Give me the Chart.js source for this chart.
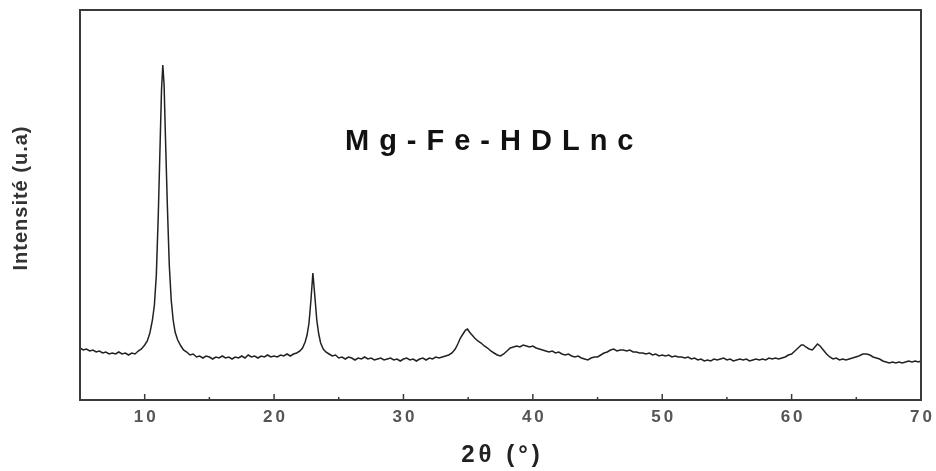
<!DOCTYPE html>
<html lang="fr">
<head>
  <meta charset="UTF-8">
  <title>DRX Mg-Fe-HDLnc</title>
  <style>
    body { margin: 0; background: #fff; }
    #wrap { width: 936px; height: 471px; }
  </style>
</head>
<body>
<div id="wrap"><canvas id="xrd"></canvas></div>

<script src="https://cdn.jsdelivr.net/npm/chart.js"></script>
<script>
  // 2theta positions (degrees)
  var twoTheta = [
    5.0, 5.25, 5.5, 5.75, 6.0, 6.25, 6.5, 6.75, 7.0, 7.25, 7.5, 7.75, 8.0, 8.25, 8.5, 8.75, 9.0, 9.25, 9.5,
    9.75, 10.0, 10.2, 10.4, 10.6, 10.75, 10.9, 11.05, 11.2, 11.3, 11.4, 11.5, 11.6, 11.75, 11.9, 12.05, 12.2, 12.35, 12.55, 12.8, 13.0, 13.25,
    13.5, 13.75, 14.0, 14.25, 14.5, 14.75, 15.0, 15.25, 15.5, 15.75, 16.0, 16.25, 16.5, 16.75, 17.0, 17.25, 17.5, 17.75,
    18.0, 18.25, 18.5, 18.75, 19.0, 19.25, 19.5, 19.75, 20.0, 20.25, 20.5, 20.75, 21.0, 21.25, 21.5, 21.75, 22.0,
    22.2, 22.4, 22.55, 22.7, 22.85, 23.0, 23.15, 23.3, 23.45, 23.6, 23.8, 24.0, 24.25,
    24.5, 24.75, 25.0, 25.25, 25.5, 25.75, 26.0, 26.25, 26.5, 26.75, 27.0, 27.25, 27.5, 27.75, 28.0, 28.25, 28.5, 28.75,
    29.0, 29.25, 29.5, 29.75, 30.0, 30.25, 30.5, 30.75, 31.0, 31.25, 31.5, 31.75, 32.0, 32.25, 32.5, 32.75, 33.0, 33.25, 33.5,
    33.75, 34.0, 34.2, 34.4, 34.6, 34.8, 34.95, 35.1, 35.3, 35.5, 35.75, 36.0, 36.25, 36.5, 36.75, 37.0, 37.25, 37.5,
    37.75, 38.0, 38.25, 38.5, 38.75, 39.0, 39.25, 39.5, 39.75, 40.0, 40.25, 40.5, 40.75, 41.0, 41.25, 41.5, 41.75,
    42.0, 42.25, 42.5, 42.75, 43.0, 43.25, 43.5, 43.75, 44.0, 44.25, 44.5, 44.75, 45.0, 45.25, 45.5, 45.75,
    46.0, 46.25, 46.5, 46.75, 47.0, 47.25, 47.5, 47.75, 48.0, 48.25, 48.5, 48.75, 49.0, 49.25, 49.5, 49.75,
    50.0, 50.25, 50.5, 50.75, 51.0, 51.25, 51.5, 51.75, 52.0, 52.25, 52.5, 52.75, 53.0, 53.25, 53.5, 53.75,
    54.0, 54.25, 54.5, 54.75, 55.0, 55.25, 55.5, 55.75, 56.0, 56.25, 56.5, 56.75, 57.0, 57.25, 57.5, 57.75,
    58.0, 58.25, 58.5, 58.75, 59.0, 59.25, 59.5,
    59.75, 60.0, 60.25, 60.5, 60.75, 60.9, 61.1, 61.35, 61.6, 61.8, 62.0, 62.2, 62.45, 62.7, 62.95,
    63.2, 63.45, 63.7, 63.95, 64.2, 64.45, 64.7, 64.95, 65.2, 65.5, 65.8, 66.05, 66.3, 66.55, 66.8,
    67.05, 67.3, 67.55, 67.8, 68.05, 68.3, 68.55, 68.8, 69.05, 69.3, 69.55, 69.8, 70.0
  ];

  // intensity (arbitrary units) at each position above
  var intensity = [
    52, 50, 51, 49, 50, 48, 49, 47, 48, 46, 47, 46, 48, 46, 47, 45, 47, 46, 49,
    51, 55, 59, 67, 80, 95, 125, 185, 260, 310, 335, 315, 265, 195, 135, 100, 80, 68, 60, 54, 50, 48,
    45, 46, 43, 44, 42, 44, 43, 41, 43, 42, 44, 42, 43, 41, 43, 42, 44, 42,
    45, 43, 44, 42, 44, 43, 45, 43, 44, 43, 45, 44, 46, 44, 46, 47, 49,
    52, 58, 65, 77, 100, 127, 104, 80, 66, 57, 51, 48, 46,
    44, 45, 42, 43, 41, 43, 42, 40, 42, 41, 43, 41, 42, 40, 41, 42, 40, 41,
    42, 40, 41, 39, 41, 42, 40, 41, 39, 41, 42, 40, 42, 41, 43, 42, 43, 44, 45,
    47, 51, 56, 62, 66, 70, 71, 68, 65, 62, 59, 57, 54, 52, 49, 47, 45, 44,
    46, 49, 52, 53, 54, 53, 55, 54, 53, 54, 52, 51, 50, 49, 48, 49, 47,
    48, 46, 45, 46, 44, 43, 44, 42, 41, 40, 42, 43, 43, 45, 47, 48,
    50, 51, 49, 50, 50, 49, 50, 48, 48, 47, 47, 46, 47, 45, 46, 44,
    45, 44, 45, 43, 44, 43, 43, 42, 43, 41, 42, 40, 41, 39, 40, 39,
    41, 40, 41, 42, 40, 41, 39, 40, 41, 40, 41, 39, 40, 41, 40, 41,
    40, 42, 41, 42, 41, 42, 43,
    45, 46, 49, 52, 55, 55, 53, 51, 50, 53, 56, 54, 50, 46, 43,
    41, 42, 40, 41, 40, 41, 42, 43, 44, 46, 46, 45, 43, 42, 41,
    39, 38, 37, 38, 37, 38, 37, 38, 39, 38, 39, 38, 39
  ];

  var xTicks = [10, 20, 30, 40, 50, 60, 70];

  var points = twoTheta.map(function(t, i) { return { x: t, y: intensity[i] }; });

  // frame, inward tick marks and spaced-out texts
  var decorations = {
    id: 'decorations',
    afterDraw: function(chart) {
      var ctx = chart.ctx;
      var area = chart.chartArea;
      var xs = chart.scales.x;

      ctx.save();
      ctx.strokeStyle = '#3a3a3a';
      ctx.lineWidth = 2;
      ctx.strokeRect(area.left, area.top, area.right - area.left, area.bottom - area.top);

      ctx.lineWidth = 1.5;
      xs.ticks.forEach(function(t) {
        if (t.value <= xs.min || t.value >= xs.max) return;
        var px = xs.getPixelForValue(t.value);
        var len = (t.value % 10 === 0) ? 6 : 3;
        ctx.beginPath();
        ctx.moveTo(px, area.bottom);
        ctx.lineTo(px, area.bottom - len);
        ctx.stroke();
      });

      // tick labels
      ctx.fillStyle = '#555';
      ctx.font = 'bold 17px "Liberation Sans", Arial, sans-serif';
      ctx.letterSpacing = '3px';
      ctx.textAlign = 'center';
      ctx.textBaseline = 'middle';
      xTicks.forEach(function(v) {
        ctx.fillText(String(v), xs.getPixelForValue(v) + 1.5, area.bottom + 17);
      });

      // x title
      ctx.fillStyle = '#222';
      ctx.font = 'bold 24px "Liberation Sans", Arial, sans-serif';
      ctx.letterSpacing = '4px';
      ctx.fillText('2\u03B8 (\u00B0)', (area.left + area.right) / 2 + 2, area.bottom + 55);

      // sample name
      ctx.fillStyle = '#111';
      ctx.font = 'bold 29px "Liberation Sans", Arial, sans-serif';
      ctx.letterSpacing = '10px';
      ctx.textAlign = 'left';
      ctx.textBaseline = 'alphabetic';
      ctx.fillText('Mg-Fe-HDLnc', area.left + 265, 150);

      // y title
      ctx.fillStyle = '#333';
      ctx.font = 'bold 20px "Liberation Sans Narrow", "Liberation Sans", sans-serif';
      ctx.letterSpacing = '1px';
      ctx.textAlign = 'center';
      ctx.textBaseline = 'middle';
      ctx.translate(21, 198);
      ctx.rotate(-Math.PI / 2);
      ctx.fillText('Intensit\u00E9 (u.a)', 0, 0);
      ctx.restore();
    }
  };

  var chart = new Chart(document.getElementById('xrd').getContext('2d'), {
    type: 'line',
    data: {
      datasets: [{
        data: points,
        borderColor: '#222',
        borderWidth: 1.5,
        pointRadius: 0,
        tension: 0,
        fill: false
      }]
    },
    options: {
      responsive: true,
      maintainAspectRatio: false,
      animation: false,
      layout: { padding: { left: 80, top: 10, right: 15, bottom: 71 } },
      plugins: {
        legend: { display: false },
        tooltip: { enabled: false }
      },
      scales: {
        x: {
          type: 'linear',
          min: 5,
          max: 70,
          ticks: { display: false, stepSize: 5 },
          grid: { display: false },
          border: { display: false },
          afterFit: function(s) { s.height = 0; }
        },
        y: {
          min: 0,
          max: 390,
          ticks: { display: false },
          grid: { display: false },
          border: { display: false },
          afterFit: function(s) { s.width = 0; }
        }
      }
    },
    plugins: [decorations]
  });
</script>
</body>
</html>
